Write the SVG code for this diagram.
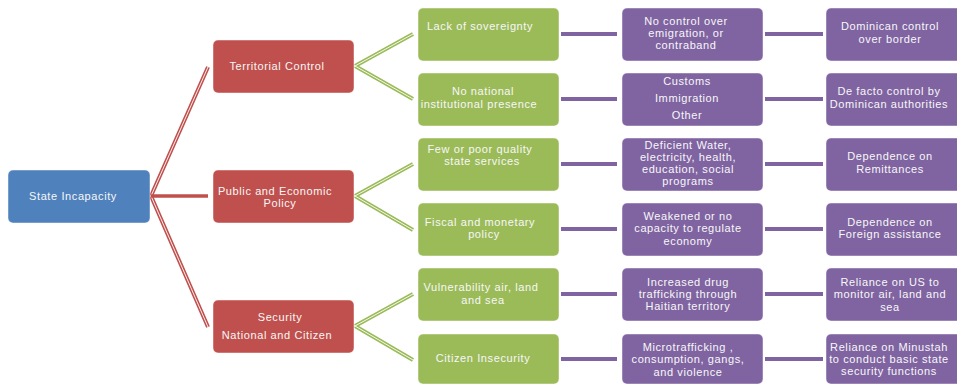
<svg xmlns="http://www.w3.org/2000/svg" width="957" height="385" viewBox="0 0 957 385">
<style>
text{font-family:"Liberation Sans",Arial,sans-serif;font-size:11px;letter-spacing:0.6px;fill:#f7f7f7;text-anchor:middle}
.box{stroke:#ffffff;stroke-opacity:0.45;stroke-width:1}
.blue{fill:#4F81BD}.red{fill:#C0504D}.green{fill:#9BBB59}.purple{fill:#8064A2}
.rl{stroke:#C0504D;stroke-width:4;fill:none}
.gl{stroke:#9BBB59;stroke-width:4;fill:none}
.core{stroke:#ffffff;stroke-width:1;fill:none;stroke-opacity:0.9}
.pl{stroke:#8064A2;stroke-width:4;fill:none}
</style>
<g id="connectors">
<path class="rl" d="M151 196 L208 67 M151 196 L208 327"/>
<path class="core" d="M151 196 L208 67 M151 196 L208 327"/>
<path d="M151 196 H208" stroke="#C0504D" stroke-width="3.5"/>
<path class="gl" d="M355 66 L413 34 M355 66 L413 99 M355 196 L413 164 M355 196 L413 230 M355 326 L413 294 M355 326 L413 360"/>
<path class="core" d="M355 66 L413 34 M355 66 L413 99 M355 196 L413 164 M355 196 L413 230 M355 326 L413 294 M355 326 L413 360"/>
<path class="pl" d="M561 34 H617 M561 99 H617 M561 164 H617 M561 229 H617 M561 294 H617 M561 359 H617"/>
<path class="pl" d="M765 34 H823 M765 99 H823 M765 164 H823 M765 229 H823 M765 294 H823 M765 359 H823"/>
</g>
<g id="state-incapacity"><rect class="box blue" x="8" y="170" width="142" height="53" rx="5"/><text x="73" y="200">State Incapacity</text></g>
<g id="territorial-control"><rect class="box red" x="213" y="40" width="141" height="53" rx="5"/><text x="277" y="70">Territorial Control</text></g>
<g id="public-economic-policy"><rect class="box red" x="213" y="170" width="141" height="53" rx="5"/><text x="275" y="194.5">Public and Economic</text><text x="280" y="206.5">Policy</text></g>
<g id="security"><rect class="box red" x="213" y="300" width="141" height="53" rx="5"/><text x="280" y="321">Security</text><text x="277" y="339">National and Citizen</text></g>

<g id="lack-sovereignty"><rect class="box green" x="418" y="8" width="141" height="53" rx="5"/><text x="480" y="29.5">Lack of sovereignty</text></g>
<g id="no-national-presence"><rect class="box green" x="418" y="73" width="141" height="53" rx="5"/><text x="483" y="95">No national</text><text x="479" y="108">institutional presence</text></g>
<g id="poor-services"><rect class="box green" x="418" y="138" width="141" height="53" rx="5"/><text x="480" y="153">Few or poor quality</text><text x="482" y="164.5">state services</text></g>
<g id="fiscal-monetary"><rect class="box green" x="418" y="203" width="141" height="53" rx="5"/><text x="480" y="225.5">Fiscal and monetary</text><text x="484" y="238">policy</text></g>
<g id="vulnerability"><rect class="box green" x="418" y="268" width="141" height="53" rx="5"/><text x="481" y="291">Vulnerability air, land</text><text x="483" y="304">and sea</text></g>
<g id="citizen-insecurity"><rect class="box green" x="418" y="334" width="141" height="50" rx="5"/><text x="483" y="362">Citizen Insecurity</text></g>

<g id="no-control"><rect class="box purple" x="622" y="8" width="141" height="53" rx="5"/><text x="686" y="25">No control over</text><text x="686" y="36.5">emigration, or</text><text x="686" y="49">contraband</text></g>
<g id="customs"><rect class="box purple" x="622" y="73" width="141" height="53" rx="5"/><text x="687" y="85">Customs</text><text x="687" y="102">Immigration</text><text x="687" y="119">Other</text></g>
<g id="deficient-water"><rect class="box purple" x="622" y="138" width="141" height="53" rx="5"/><text x="688" y="149">Deficient Water,</text><text x="688" y="161">electricity, health,</text><text x="688" y="173">education, social</text><text x="688" y="185">programs</text></g>
<g id="weakened"><rect class="box purple" x="622" y="203" width="141" height="53" rx="5"/><text x="688" y="220">Weakened or no</text><text x="688" y="232">capacity to regulate</text><text x="688" y="245">economy</text></g>
<g id="drug-trafficking"><rect class="box purple" x="622" y="268" width="141" height="53" rx="5"/><text x="688" y="286">Increased drug</text><text x="688" y="298">trafficking through</text><text x="688" y="310">Haitian territory</text></g>
<g id="microtrafficking"><rect class="box purple" x="622" y="334" width="141" height="50" rx="5"/><text x="688" y="350.5">Microtrafficking ,</text><text x="688" y="363">consumption, gangs,</text><text x="688" y="375.5">and violence</text></g>

<g id="dominican-control"><rect class="box purple" x="826" y="8" width="142" height="53" rx="5"/><text x="890" y="30">Dominican control</text><text x="890" y="43">over border</text></g>
<g id="de-facto-control"><rect class="box purple" x="826" y="73" width="142" height="53" rx="5"/><text x="889" y="95">De facto control by</text><text x="889" y="108">Dominican authorities</text></g>
<g id="remittances"><rect class="box purple" x="826" y="138" width="142" height="53" rx="5"/><text x="890" y="160">Dependence on</text><text x="890" y="173">Remittances</text></g>
<g id="foreign-assistance"><rect class="box purple" x="826" y="203" width="142" height="53" rx="5"/><text x="890" y="225.5">Dependence on</text><text x="890" y="238">Foreign assistance</text></g>
<g id="reliance-us"><rect class="box purple" x="826" y="268" width="142" height="53" rx="5"/><text x="890" y="286">Reliance on US to</text><text x="890" y="298">monitor air, land and</text><text x="890" y="310.5">sea</text></g>
<g id="reliance-minustah"><rect class="box purple" x="826" y="334" width="142" height="50" rx="5"/><text x="889" y="350.5">Reliance on Minustah</text><text x="889" y="362.5">to conduct basic state</text><text x="889" y="375">security functions</text></g>
</svg>
